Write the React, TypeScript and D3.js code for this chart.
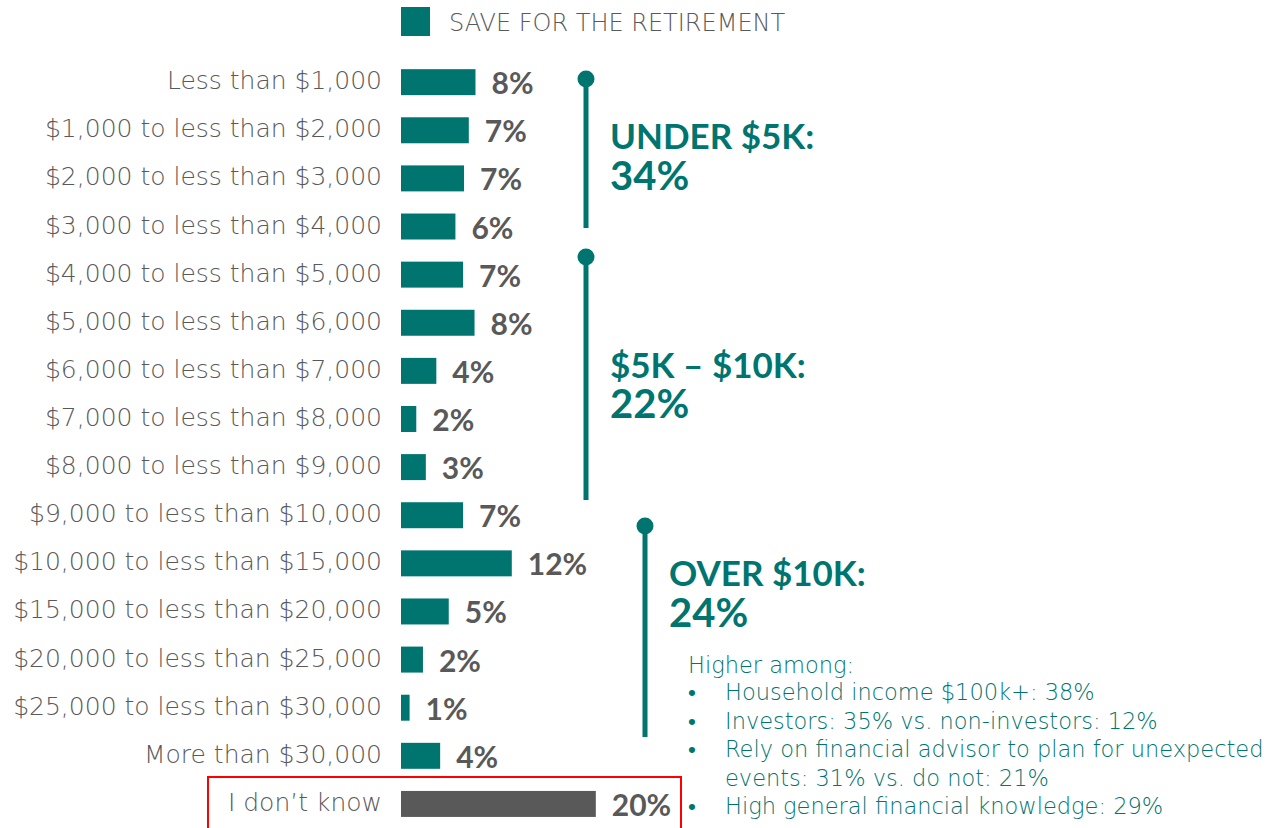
import { useEffect, useRef } from 'react';
import * as d3 from 'd3';

const categories = [
  'Less than $1,000',
  '$1,000 to less than $2,000',
  '$2,000 to less than $3,000',
  '$3,000 to less than $4,000',
  '$4,000 to less than $5,000',
  '$5,000 to less than $6,000',
  '$6,000 to less than $7,000',
  '$7,000 to less than $8,000',
  '$8,000 to less than $9,000',
  '$9,000 to less than $10,000',
  '$10,000 to less than $15,000',
  '$15,000 to less than $20,000',
  '$20,000 to less than $25,000',
  '$25,000 to less than $30,000',
  'More than $30,000',
  'I don\u2019t know',
];
const values = [7.8, 7.1, 6.6, 5.7, 6.5, 7.7, 3.7, 1.6, 2.6, 6.5, 11.6, 5.0, 2.3, 0.9, 4.1, 20.4];
const legendLabel = 'SAVE FOR THE RETIREMENT';
const groupLabels = ['UNDER $5K:', '$5K \u2013 $10K:', 'OVER $10K:'];
const groupValues = [34, 22, 24];
const notesTitle = 'Higher among:';
const notes = [
  ['Household income $100k+: 38%'],
  ['Investors: 35% vs. non-investors: 12%'],
  ['Rely on financial advisor to plan for unexpected', 'events: 31% vs. do not: 21%'],
  ['High general financial knowledge: 29%'],
];

const W = 1283;
const H = 828;
const TEAL = '#007570';
const GRAY = '#595959';
const LIGHT = "'DejaVu Sans', sans-serif";
const BOLD = 'Lato, sans-serif';

// bracket geometry: [x, dotY, endY, textX, labelBaseline, valueBaseline]
const brackets = [
  [586, 79, 228, 610, 149, 190],
  [586, 257, 500, 610, 378, 418],
  [645, 526, 737, 669, 586, 627],
];

export default function App() {
  const svgRef = useRef<SVGSVGElement>(null);

  useEffect(() => {
    const svg = d3.select(svgRef.current);
    svg.selectAll('*').remove();

    const x0 = 401;
    const x = d3.scaleLinear().domain([0, 20]).range([0, 191]);
    const y = d3.scaleBand().domain(categories).range([58.1, 828]).paddingInner(0.46).paddingOuter(0.23);
    const bw = y.bandwidth();

    // legend
    svg.append('rect').attr('x', x0).attr('y', 7).attr('width', 29).attr('height', 29).attr('fill', TEAL);
    svg.append('text').attr('x', 449).attr('y', 31)
      .attr('font-family', LIGHT).attr('font-weight', 200).attr('font-size', 24)
      .attr('fill', GRAY).text(legendLabel);

    const last = categories[categories.length - 1];

    svg.append('g').selectAll('rect').data(categories).join('rect')
      .attr('x', x0)
      .attr('y', d => y(d)!)
      .attr('width', (d, i) => x(values[i]))
      .attr('height', bw)
      .attr('fill', d => (d === last ? GRAY : TEAL));

    svg.append('g').selectAll('text').data(categories).join('text')
      .attr('x', 382)
      .attr('y', d => y(d)! + 20)
      .attr('text-anchor', 'end')
      .attr('font-family', LIGHT).attr('font-weight', 200).attr('font-size', 25)
      .attr('fill', GRAY)
      .text(d => d);

    svg.append('g').selectAll('text').data(categories).join('text')
      .attr('x', (d, i) => x0 + x(values[i]) + 16)
      .attr('y', d => y(d)! + bw - 1)
      .attr('font-family', BOLD).attr('font-weight', 700).attr('font-size', 30)
      .attr('fill', GRAY)
      .text((d, i) => `${Math.round(values[i])}%`);

    // brackets
    brackets.forEach((b, i) => {
      const [bx, dotY, endY, tx, ly, vy] = b;
      svg.append('line').attr('x1', bx).attr('x2', bx).attr('y1', dotY).attr('y2', endY)
        .attr('stroke', TEAL).attr('stroke-width', 5);
      svg.append('circle').attr('cx', bx).attr('cy', dotY).attr('r', 8.5).attr('fill', TEAL);
      svg.append('text').attr('x', tx).attr('y', ly)
        .attr('font-family', BOLD).attr('font-weight', 700).attr('font-size', 35)
        .attr('fill', TEAL).text(groupLabels[i]);
      svg.append('text').attr('x', tx).attr('y', vy)
        .attr('font-family', BOLD).attr('font-weight', 700).attr('font-size', 40)
        .attr('fill', TEAL).text(`${groupValues[i]}%`);
    });

    // notes
    const notesG = svg.append('g')
      .attr('font-family', LIGHT).attr('font-weight', 200).attr('font-size', 22.5).attr('fill', TEAL);
    notesG.append('text').attr('x', 688).attr('y', 673).text(notesTitle);
    let line = 0;
    notes.forEach(n => {
      n.forEach((t, j) => {
        const ly = 700 + line * 28.5;
        if (j === 0) notesG.append('text').attr('x', 688).attr('y', ly).text('\u2022');
        notesG.append('text').attr('x', 725).attr('y', ly).text(t);
        line++;
      });
    });

    // highlight box around "I don't know"
    svg.append('rect').attr('x', 208).attr('y', 777).attr('width', 473).attr('height', 70)
      .attr('fill', 'none').attr('stroke', '#ff0000').attr('stroke-width', 2);
  }, []);

  return (
    <div style={{ position: 'absolute', left: 0, top: 0 }}>
      <svg ref={svgRef} width={W} height={H} style={{ display: 'block', background: '#fff' }} />
    </div>
  );
}
